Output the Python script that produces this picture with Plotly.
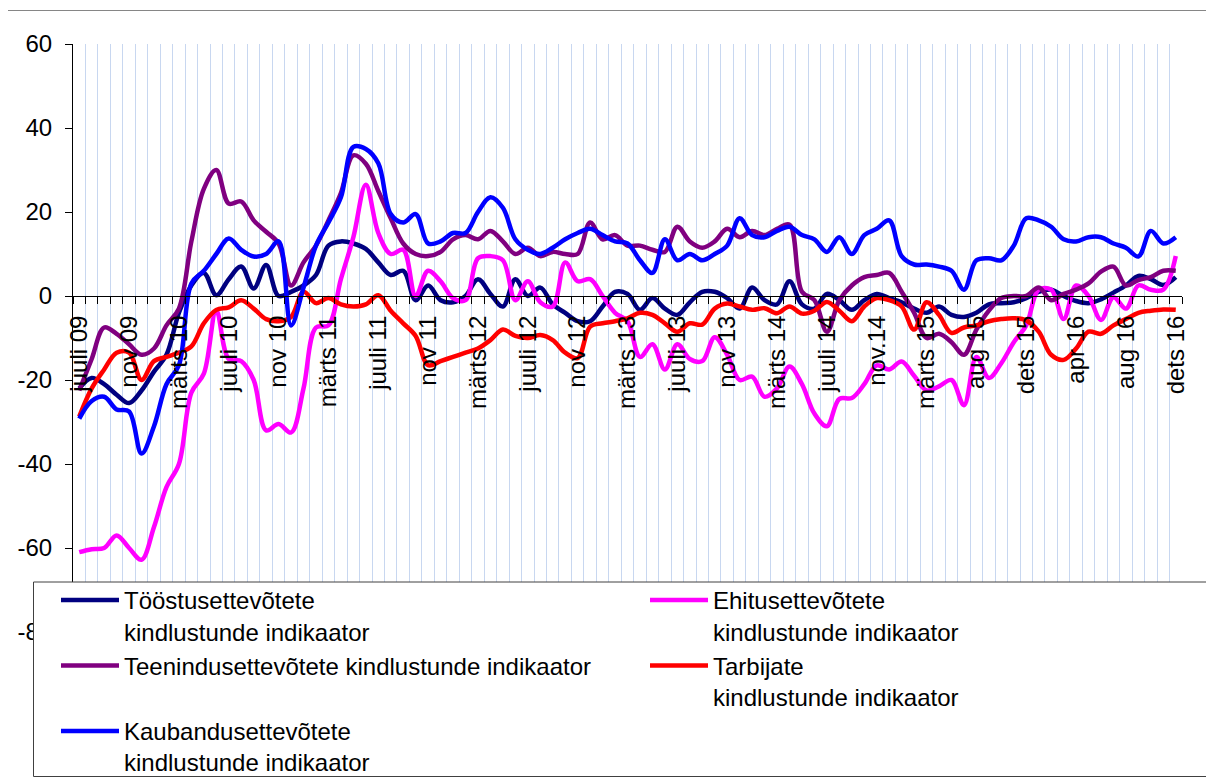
import plotly.graph_objects as go

# ---------------- data ----------------
tick_labels = ["juuli 09", "nov 09", "märts 10", "juuli 10", "nov 10", "märts 11",
               "juuli 11", "nov 11", "märts 12", "juuli 12", "nov 12", "märts 13",
               "juuli 13", "nov 13", "märts 14", "juuli 14", "nov.14", "märts 15",
               "aug 15", "dets 15", "apr 16", "aug 16", "dets 16"]
n_points = 89
months = list(range(n_points))          # monthly observations, jul 2009 .. dec 2016
tick_pos = list(range(0, n_points, 4))
y_ticks = [-80, -60, -40, -20, 0, 20, 40, 60]
y_ticktext = ["-80", "-60", "-40", "-20", "0", "20", "40", "60"]

toostus = [-22, -19.5, -21, -23.5, -25.5, -22.5, -18, -14, -4, 2.5,
           5.5, 0.2, 4, 7, 1.8, 7.4, 0, 1, 2.5, 5,
           12, 13, 12.5, 11.2, 8, 5, 6, -1, 2.5, -1,
           -1.5, 0, 4, 0.5, -2.5, 4, 0, 2, -2, -4,
           -6, -6, -2.5, 1, 0.5, -3.3, -0.5, -3, -4.5, -1.5,
           1, 1, -0.5, -3, 2, -1, -2, 3.5, -2, -3,
           0.5, -1, -3.3, -1, 0.5, -0.5, -1.5, -3, -4, -2.5,
           -4.5, -5, -4, -2, -1.7, -1.5, -0.5, 1, 1.5, 0,
           -1.2, -1.7, -0.8, 0.8, 2.5, 4.8, 4, 2.6, 4.5]

ehitus = [-61, -60.3, -60, -57, -60, -62.8, -55, -45.5, -40, -23,
          -18.5, -3.5, -15, -15.5, -20, -32, -30.5, -32.5, -22, -7.5,
          -7, 4, 14, 26.5, 15, 10, 11, 0, 6, 3.5,
          -0.5, -1, 9, 9.5, 8.5, -1, 3.5, -1.5, -2.5, 8,
          3.5, 4, 0, -4, -6, -14.5, -11.5, -17.5, -11.5, -15,
          -15.5, -9.8, -14, -20, -19.2, -24, -22, -16.8, -21, -28,
          -31, -24.5, -24.3, -21, -16.5, -17.5, -15.6, -19, -22.5, -21.5,
          -20, -26, -14.5, -19.5, -16, -11, -7, 1.5, 1.5, -5.5,
          2.5, 0, -5.7, -0.3, -3, 2.5, 1.5, 1.5, 9.5]

teenindus = [-22.5, -15, -7.5, -9, -11.5, -14, -12.5, -7, -3, 13,
             25.5, 30, 22, 22.5, 18, 15.3, 12.5, 2.5, 8, 12,
             18, 24.5, 33.5, 31.5, 25, 18.5, 12.5, 10, 9.5, 10.5,
             13.5, 14.5, 13.5, 15.5, 13, 10, 11.5, 9.5, 10.5, 10,
             10, 17.5, 13.5, 14.5, 12, 12, 11, 10.5, 16.5, 13,
             11.5, 13, 16, 14, 15.5, 14.5, 16, 17, 1, -1,
             -8.5, -1, 2.5, 4.5, 5, 5.5, 1, -4, -10, -9,
             -11, -14, -8, -3.5, -0.5, 0, 0, 2, -1, 0.5,
             1.5, 3, 5.8, 7, 2.5, 3.8, 4.5, 6, 6]

tarbijate = [-28.7, -22, -17.5, -13.5, -13.5, -20, -15.5, -14.5, -13.5, -12,
             -6.5, -3.3, -2.7, -1, -3, -5.5, -6, -5, 1, -1.7,
             -0.5, -2, -2.5, -2, 0.2, -3.5, -6.5, -9.5, -16.5, -15.5,
             -14.5, -13.5, -12.5, -10.5, -8, -9.5, -10, -9.3, -10.5, -13.5,
             -14.8, -7.3, -6.5, -6, -5.3, -4, -4.5, -6.5, -8.5, -6.5,
             -6.8, -3, -1.8, -2.5, -3.3, -2.9, -4.1, -2.5, -4.2, -3.5,
             -1.4, -3.5, -6, -2.5, -0.5, -1, -2.5, -8, -1.5, -4.5,
             -8.8, -7.5, -7, -6, -5.5, -5.3, -5.8, -8.5, -14, -15.2,
             -12.5, -8.5, -9, -7, -5.5, -4, -3.5, -3.2, -3.3]

kaubandus = [-29.2, -25, -24, -27, -27.5, -37.5, -31, -21, -16.5, 3,
             6, 10, 13.7, 11, 9.4, 10, 13, -7, 2, 12,
             17.5, 23.5, 35.5, 35, 31.6, 19.5, 17.5, 19.5, 12.5, 13,
             15, 15, 20, 23.5, 21, 13.5, 11, 10, 11.5, 13.5,
             15, 16, 14.5, 13, 12.5, 8.5, 5.5, 13.5, 8.5, 10,
             8.5, 10, 12, 18.5, 14.5, 14, 15.5, 16.5, 14.5, 13.5,
             10.5, 14, 10, 14.5, 16, 18, 9.5, 7.5, 7.5, 7,
             6, 1.5, 8.5, 9, 8.5, 12, 18.5, 18, 16.5, 13.5,
             13, 14, 14, 12.5, 11.5, 9.4, 15.5, 12.5, 14]

series = [
    ("Tööstusettevõtete<br>kindlustunde indikaator", toostus, "#000080"),
    ("Ehitusettevõtete<br>kindlustunde indikaator", ehitus, "#FF00FF"),
    ("Teenindusettevõtete kindlustunde indikaator", teenindus, "#800080"),
    ("Tarbijate<br>kindlustunde indikaator", tarbijate, "#FF0000"),
    ("Kaubandusettevõtete<br>kindlustunde indikaator", kaubandus, "#0000FF"),
]

# ---------------- figure ----------------
OFF = 8                      # page body margin offset (screen px)
W, H = 1206, 770
L, R, T, B = 65, 32, 36, 146
pw, ph = W - L - R, H - T - B
FONT = "Arial, Liberation Sans, sans-serif"

def sx(p):  # screen x pixel -> paper fraction
    return (p - OFF - L) / pw

def sy(p):  # screen y pixel -> paper fraction
    return (H - B - (p - OFF)) / ph

fig = go.Figure()
for name, vals, col in series:
    fig.add_trace(go.Scatter(
        x=months, y=vals, name=name, mode="lines",
        line=dict(color=col, width=4.5, shape="spline", smoothing=1),
    ))

fig.update_layout(
    width=W, height=H,
    margin=dict(l=L, r=R, t=T, b=B, autoexpand=False),
    paper_bgcolor="white", plot_bgcolor="white",
    font=dict(family=FONT, size=24, color="black"),
    showlegend=True,
    legend=dict(
        orientation="h", x=sx(33), xanchor="left",
        y=sy(785), yanchor="bottom",
        bgcolor="rgba(0,0,0,0)", borderwidth=0,
        font=dict(family=FONT, size=24, color="black"),
        valign="top", indentation=23, itemwidth=58,
        entrywidth=493, entrywidthmode="pixels",
        traceorder="normal",
    ),
    xaxis=dict(
        range=[-0.5, n_points - 0.5],
        tickmode="array", tickvals=tick_pos, ticktext=tick_labels,
        tickangle=-90, ticks="", showgrid=False, zeroline=False,
        showline=True, linecolor="black", linewidth=1,
        anchor="free", position=sy(296),
        ticklabelstandoff=9,
        tickfont=dict(family=FONT, size=24, color="black"),
        minor=dict(tickmode="array",
                   tickvals=[k - 0.5 for k in range(n_points + 1)],
                   ticks="outside", ticklen=7, tickcolor="black", tickwidth=1,
                   showgrid=True, gridcolor="#C8D7F0", gridwidth=1),
    ),
    yaxis=dict(
        range=[-80, 60], tickmode="array", tickvals=y_ticks, ticktext=y_ticktext,
        ticks="outside", ticklen=7, tickcolor="black",
        showline=True, linecolor="black", linewidth=1,
        showgrid=False, zeroline=False, ticklabelstandoff=8,
        tickfont=dict(family=FONT, size=24, color="black"),
    ),
    shapes=[
        # outer chart frame
        dict(type="rect", xref="paper", yref="paper",
             x0=sx(7.5), x1=1.2, y0=-0.5, y1=sy(10.5),
             line=dict(color="#868686", width=1), fillcolor="rgba(0,0,0,0)",
             layer="below"),
        # legend box
        dict(type="rect", xref="paper", yref="paper",
             x0=sx(33.5), x1=1.2, y0=sy(776.5), y1=sy(582),
             line=dict(color="#404040", width=1), fillcolor="white",
             layer="above"),
    ],
)

fig.write_html("out.html")
